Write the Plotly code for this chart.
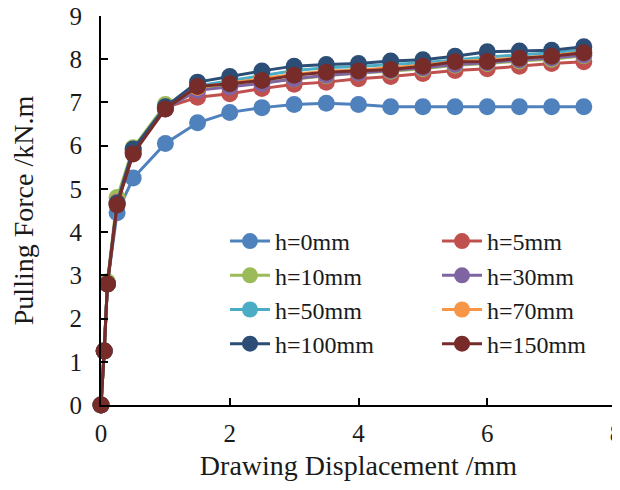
import plotly.graph_objects as go

x_mm = [0, 0.05, 0.1, 0.25, 0.5, 1, 1.5, 2, 2.5, 3, 3.5, 4, 4.5, 5, 5.5, 6, 6.5, 7, 7.5]

h0 = [0, 1.25, 2.8, 4.45, 5.25, 6.05, 6.53, 6.77, 6.88, 6.95, 6.98, 6.95, 6.9, 6.9, 6.9, 6.9, 6.9, 6.9, 6.9]
h5 = [0, 1.25, 2.8, 4.65, 5.85, 6.88, 7.12, 7.2, 7.32, 7.42, 7.47, 7.55, 7.6, 7.67, 7.74, 7.78, 7.84, 7.9, 7.94]
h10 = [0, 1.25, 2.85, 4.8, 5.95, 6.95, 7.3, 7.38, 7.46, 7.55, 7.62, 7.68, 7.72, 7.78, 7.86, 7.9, 7.96, 8.0, 8.08]
h30 = [0, 1.25, 2.8, 4.65, 5.85, 6.85, 7.28, 7.36, 7.44, 7.55, 7.63, 7.68, 7.74, 7.8, 7.88, 7.92, 7.98, 8.03, 8.1]
h50 = [0, 1.25, 2.8, 4.7, 5.9, 6.88, 7.38, 7.5, 7.62, 7.74, 7.8, 7.83, 7.88, 7.92, 7.98, 8.05, 8.1, 8.15, 8.22]
h70 = [0, 1.25, 2.8, 4.7, 5.88, 6.88, 7.35, 7.45, 7.55, 7.65, 7.72, 7.75, 7.8, 7.86, 7.95, 7.98, 8.03, 8.08, 8.17]
h100 = [0, 1.25, 2.8, 4.68, 5.92, 6.9, 7.47, 7.6, 7.73, 7.84, 7.88, 7.9, 7.96, 7.99, 8.07, 8.17, 8.19, 8.21, 8.29]
h150 = [0, 1.25, 2.8, 4.63, 5.81, 6.85, 7.37, 7.43, 7.51, 7.63, 7.7, 7.73, 7.76, 7.84, 7.94, 7.95, 8.02, 8.07, 8.15]

series_names = ["h=0mm", "h=5mm", "h=10mm", "h=30mm", "h=50mm", "h=70mm", "h=100mm", "h=150mm"]
series_values = [h0, h5, h10, h30, h50, h70, h100, h150]
colors = ["#4F81BD", "#C0504D", "#9BBB59", "#8064A2", "#4BACC6", "#F79646", "#2C4D75", "#772C2A"]
# left legend column: 0,10,50,100 ; right column: 5,30,70,150
legend_ids = ["legend", "legend2", "legend", "legend2", "legend", "legend2", "legend", "legend2"]

FONT = "Liberation Serif"
TXT = "#1a1a1a"

fig = go.Figure()
for name, vals, col, lg in zip(series_names, series_values, colors, legend_ids):
    fig.add_trace(go.Scatter(
        x=x_mm, y=vals, name=name, mode="lines+markers",
        line=dict(color=col, width=3),
        marker=dict(color=col, size=17, symbol="circle"),
        cliponaxis=False, legend=lg, legendgroup=name,
    ))

# page body has an 8px default margin; margins below compensate
OFF = 8
W, H = 628, 490
ml, mr, mt, mb = 93, 20, 8, 93
pw = W - ml - mr
ph = H - mt - mb

def px_x(screen):
    return (screen - OFF - ml) / pw

def px_y(screen):
    return (H - mb - (screen - OFF)) / ph

legend_common = dict(
    font=dict(family=FONT, size=24, color=TXT),
    bgcolor="rgba(0,0,0,0)", borderwidth=0,
    xanchor="left", yanchor="top", tracegroupgap=0,
    itemwidth=40,
)

fig.update_layout(
    width=W, height=H,
    margin=dict(l=ml, r=mr, t=mt, b=mb),
    paper_bgcolor="white", plot_bgcolor="white",
    showlegend=True,
    legend=dict(x=px_x(225), y=px_y(219), **legend_common),
    legend2=dict(x=px_x(437), y=px_y(219), **legend_common),
    xaxis=dict(
        range=[0, 8], dtick=2, tick0=0, automargin=False,
        showgrid=False, zeroline=False,
        showline=True, linecolor="black", linewidth=2,
        ticks="inside", ticklen=7, tickwidth=2, tickcolor="black",
        ticklabelstandoff=5, ticklabeloverflow="allow",
        tickfont=dict(family=FONT, size=25, color=TXT),
        title=dict(text="Drawing Displacement /mm", font=dict(family=FONT, size=28, color=TXT), standoff=9),
    ),
    yaxis=dict(
        range=[0, 9], dtick=1, tick0=0, automargin=False,
        showgrid=False, zeroline=False,
        showline=True, linecolor="black", linewidth=2,
        ticks="inside", ticklen=7, tickwidth=2, tickcolor="black",
        ticklabelstandoff=12, ticklabeloverflow="allow",
        tickfont=dict(family=FONT, size=25, color=TXT),
        title=dict(text="Pulling Force /kN.m", font=dict(family=FONT, size=28, color=TXT), standoff=46),
    ),
)

fig.write_html("out.html")
